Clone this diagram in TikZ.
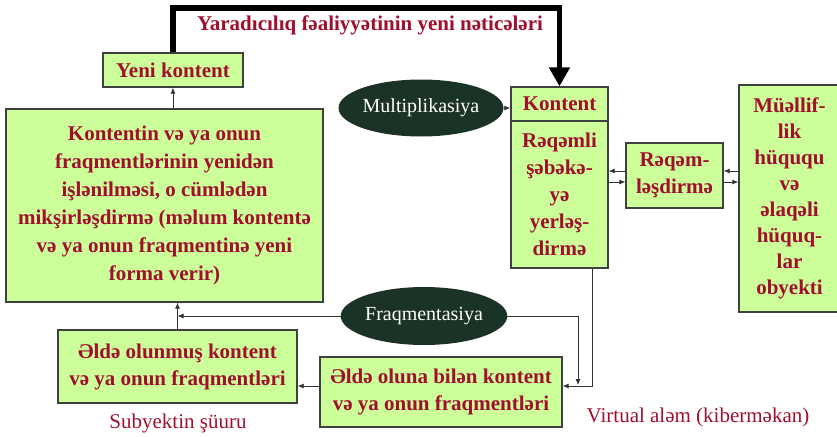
\documentclass[tikz,border=0pt]{standalone}
\usepackage{fontspec}
\setmainfont{Liberation Serif}
\usetikzlibrary{shapes.geometric,arrows.meta}
\definecolor{boxgreen}{HTML}{CCFF99}
\definecolor{txtred}{HTML}{A0102E}
\definecolor{ovalgreen}{HTML}{1B3326}
\begin{document}
\begin{tikzpicture}[x=1pt,y=-1pt,
  box/.style={draw=black!75, line width=1.3pt, fill=boxgreen, text=txtred,
    font=\bfseries\fontsize{21}{27}\selectfont, align=center, inner sep=0pt},
  oval/.style={ellipse, fill=ovalgreen, text=white,
    font=\fontsize{20}{24}\selectfont, inner sep=0pt},
  arr/.style={-{Latex[length=6pt,width=5pt]}, line width=0.8pt, draw=black!80},
  lbl/.style={text=txtred, font=\fontsize{21}{25}\selectfont, inner sep=0pt}]
\useasboundingbox (0,0) rectangle (837,436);
\fill[white] (0,0) rectangle (837,436);

\node[box, minimum width=140pt, minimum height=34pt] (yk) at (173,70) {Yeni kontent};
\node[box, minimum width=317pt, minimum height=193pt, font=\bfseries\fontsize{21}{28}\selectfont] (big) at (164.5,205.5)
  {Kontentin və ya onun\\ fraqmentlərinin yenidən\\ işlənilməsi, o cümlədən\\ mikşirləşdirmə (məlum kontentə\\ və ya onun fraqmentinə yeni\\ forma verir)};
\node[box, minimum width=97pt, minimum height=34pt] (kont) at (559.5,104) {Kontent};
\node[box, minimum width=97pt, minimum height=147pt] (rsh) at (559.5,194.5) {Rəqəmli\\ şəbəkə-\\ yə\\ yerləş-\\ dirmə};
\node[box, minimum width=97pt, minimum height=65pt] (rql) at (674.5,175.5) {Rəqəm-\\ ləşdirmə};
\node[box, minimum width=101pt, minimum height=227pt, font=\bfseries\fontsize{21}{26}\selectfont] (mue) at (789.5,198.5)
  {Müəllif-\\ lik\\ hüququ\\ və\\ əlaqəli\\ hüquq-\\ lar\\ obyekti};
\node[box, minimum width=239pt, minimum height=73pt] (eo) at (177.5,366.5) {Əldə olunmuş kontent\\ və ya onun fraqmentləri};
\node[box, minimum width=242pt, minimum height=70pt] (eb) at (441,392) {Əldə oluna bilən kontent\\ və ya onun fraqmentləri};

\node[oval, minimum width=148pt, minimum height=57pt] (mult) at (421,108) {Multiplikasiya};
\node[oval, minimum width=155pt, minimum height=58pt] (frag) at (424,316) {Fraqmentasiya};

\node[lbl, font=\bfseries\fontsize{21}{25}\selectfont] (title) at (370,25) {Yaradıcılıq fəaliyyətinin yeni nəticələri};
\node[lbl] (subj) at (178,423) {Subyektin şüuru};
\node[lbl] (virt) at (698,417) {Virtual aləm (kiberməkan)};

% thick feedback arrow
\coordinate (ttop) at (370,8);
\draw[line width=5.5pt, -{Triangle[length=19pt,width=20pt]}] (yk.north) |- (ttop) -| (kont.north);

\draw[arr] (big.north -| yk.south) -- (yk.south);
\draw[arr] (mult.east) -- (mult.east -| kont.west);

\coordinate (ya) at (0,171);
\coordinate (yb) at (0,182);
\draw[arr] (rql.west |- ya) -- (rsh.east |- ya);
\draw[arr] (rsh.east |- yb) -- (rql.west |- yb);
\draw[arr] (mue.west |- ya) -- (rql.east |- ya);
\draw[arr] (rql.east |- yb) -- (mue.west |- yb);

\draw[arr] (frag.west) -- (frag.west -| eo.north);
\draw[arr] (eo.north) -- (eo.north |- big.south);

\coordinate (fd) at (578,385);
\draw[arr] (frag.east) -| (fd);

\coordinate (j) at (592,386);
\draw[arr] (rsh.south -| j) -- (j) -- (j -| eb.east);
\draw[arr] (eb.west |- j) -- (eo.east |- j);
\end{tikzpicture}
\end{document}
